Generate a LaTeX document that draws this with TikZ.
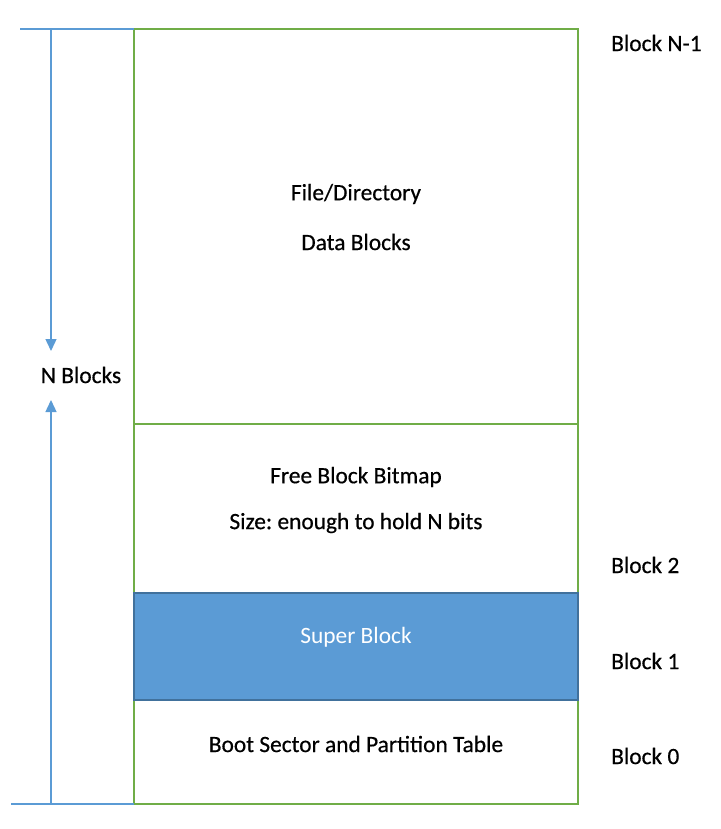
\documentclass[tikz,border=0pt]{standalone}
\usepackage{fontspec}
\setmainfont{Carlito}
\newfontfamily\darkfont[FakeBold=0.5]{Carlito}
\usetikzlibrary{arrows.meta}
\definecolor{grn}{HTML}{70AD47}
\definecolor{blu}{HTML}{5B9BD5}
\definecolor{bluedge}{HTML}{41719C}
\frenchspacing
\begin{document}
\begin{tikzpicture}[x=1pt,y=-1pt,
  region/.style={draw=grn,line width=1.6pt},
  lbl/.style={font=\darkfont\fontsize{23.4}{27}\selectfont,text=black,inner sep=0pt},
  blk/.style={lbl,anchor=west},
  meas/.style={draw=blu,line width=1.4pt},
  arr/.style={meas,-{Triangle[length=12pt,width=11pt]}}]
\useasboundingbox (0,0) rectangle (720,829);
% regions
\draw[region] (134,29) rectangle (578,424);
\draw[region] (134,424) rectangle (578,593);
\draw[region] (134,700) rectangle (578,804);
\draw[fill=blu,draw=bluedge,line width=1.4pt] (134,593) rectangle (578,700);
\node (fd) [lbl] at (356,194) {File/Directory};
\node (db) [lbl] at (356,242) {Data Blocks};
\node (fb) [lbl] at (356,477) {Free Block Bitmap};
\node (sz) [lbl] at (356,523) {Size: enough to hold N bits};
\node (sb) [lbl,font=\rmfamily\fontsize{23.4}{27}\selectfont,text=white] at (356,637) {Super Block};
\node (bs) [lbl] at (356,744) {Boot Sector and Partition Table};
% block labels
\node (bn) [blk] at (611,43) {Block N-1};
\node (b2) [blk] at (611,565) {Block 2};
\node (b1) [blk] at (611,661) {Block 1};
\node (b0) [blk] at (611,756) {Block 0};
% measure
\coordinate (tl) at (20,29);
\coordinate (tr) at (134,29);
\coordinate (bl) at (11,804);
\coordinate (br) at (134,804);
\coordinate (ta) at (51,29);
\coordinate (ba) at (51,804);
\draw[meas,line width=1.2pt] (tl) -- (tr);
\draw[meas,line width=1.6pt] (bl) -- (br);
\node (nb) [lbl] at (81,375) {N Blocks};
\coordinate (tipd) at (51,351);
\coordinate (tipu) at (51,400);
\draw[arr] (ta) -- (tipd);
\draw[arr] (ba) -- (tipu);
\end{tikzpicture}
\end{document}
